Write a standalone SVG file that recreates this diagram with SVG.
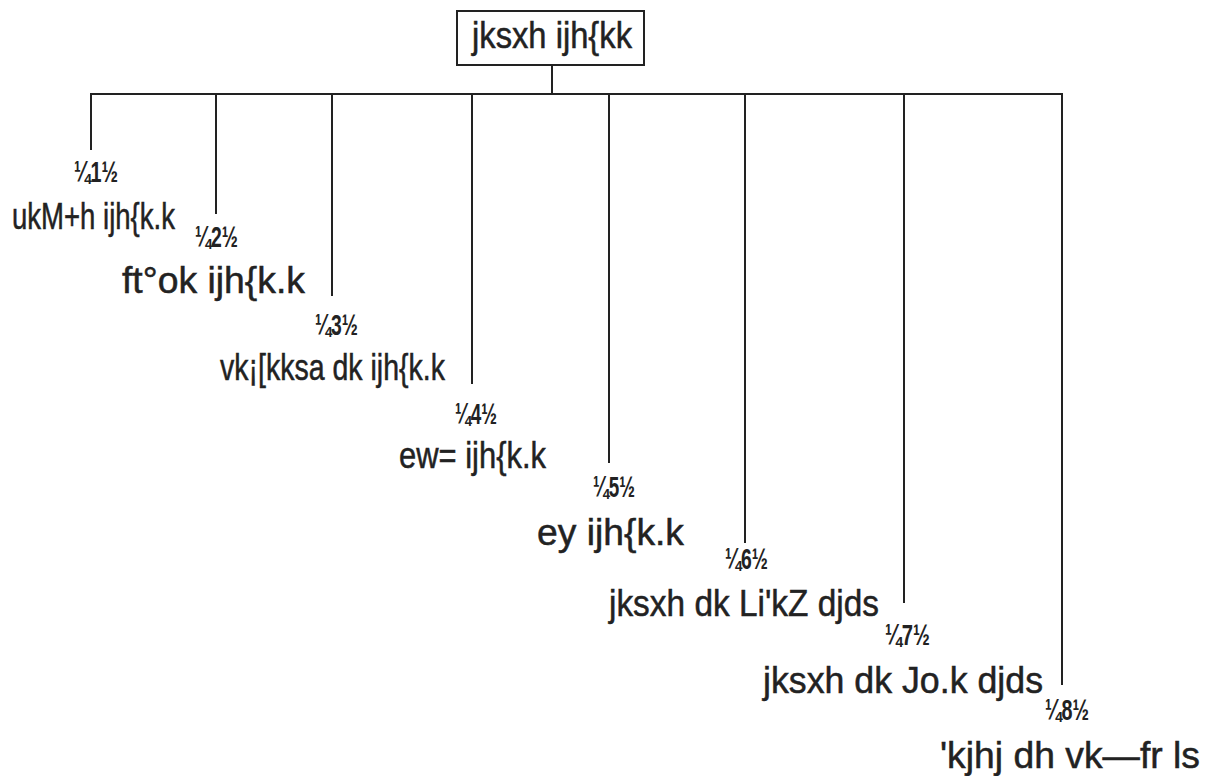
<svg xmlns="http://www.w3.org/2000/svg" width="1210" height="776" viewBox="0 0 1210 776">
  <style>
    .ln { stroke: #222; stroke-width: 2; fill: none; }
    .box { stroke: #222; stroke-width: 2; fill: #fff; }
    .lbl { font-family: "Liberation Sans", Arial, sans-serif; font-size: 37px; fill: #222; stroke: #222; stroke-width: 0.5; }
    .num { font-family: "Liberation Sans", Arial, sans-serif; font-size: 30px; font-weight: bold; fill: #222; }
  </style>
  <rect width="1210" height="776" fill="#fff"/>

  <!-- tree connectors -->
  <g id="connectors">
    <line class="ln" x1="552" y1="65" x2="552" y2="94"/>
    <line class="ln" x1="90" y1="94" x2="1063" y2="94"/>
    <line class="ln" x1="91" y1="94" x2="91" y2="150"/>
    <line class="ln" x1="216" y1="94" x2="216" y2="214"/>
    <line class="ln" x1="332" y1="94" x2="332" y2="296"/>
    <line class="ln" x1="472" y1="94" x2="472" y2="384"/>
    <line class="ln" x1="609" y1="94" x2="609" y2="463"/>
    <line class="ln" x1="745" y1="94" x2="745" y2="543"/>
    <line class="ln" x1="904" y1="94" x2="904" y2="603"/>
    <line class="ln" x1="1062" y1="94" x2="1062" y2="685"/>
  </g>

  <!-- root -->
  <g id="root">
    <rect class="box" x="457" y="11" width="187" height="54"/>
    <text class="lbl" x="472" y="48" textLength="160" lengthAdjust="spacingAndGlyphs">jksxh ijh{kk</text>
  </g>

  <!-- branches -->
  <g id="n1">
    <text class="num" x="74" y="182" textLength="44" lengthAdjust="spacingAndGlyphs">¼1½</text>
    <text class="lbl" x="12" y="229" textLength="163" lengthAdjust="spacingAndGlyphs">ukM+h ijh{k.k</text>
  </g>
  <g id="n2">
    <text class="num" x="195" y="247" textLength="43" lengthAdjust="spacingAndGlyphs">¼2½</text>
    <text class="lbl" x="122" y="293" textLength="183" lengthAdjust="spacingAndGlyphs">ft°ok ijh{k.k</text>
  </g>
  <g id="n3">
    <text class="num" x="315" y="335" textLength="43" lengthAdjust="spacingAndGlyphs">¼3½</text>
    <text class="lbl" x="220" y="380" textLength="225" lengthAdjust="spacingAndGlyphs">vk¡[kksa dk ijh{k.k</text>
  </g>
  <g id="n4">
    <text class="num" x="455" y="424" textLength="42" lengthAdjust="spacingAndGlyphs">¼4½</text>
    <text class="lbl" x="399" y="468" textLength="147" lengthAdjust="spacingAndGlyphs">ew= ijh{k.k</text>
  </g>
  <g id="n5">
    <text class="num" x="593" y="497" textLength="42" lengthAdjust="spacingAndGlyphs">¼5½</text>
    <text class="lbl" x="537" y="545" textLength="147" lengthAdjust="spacingAndGlyphs">ey ijh{k.k</text>
  </g>
  <g id="n6">
    <text class="num" x="725" y="569" textLength="43" lengthAdjust="spacingAndGlyphs">¼6½</text>
    <text class="lbl" x="609" y="616" textLength="270" lengthAdjust="spacingAndGlyphs">jksxh dk Li'kZ djds</text>
  </g>
  <g id="n7">
    <text class="num" x="885" y="645" textLength="45" lengthAdjust="spacingAndGlyphs">¼7½</text>
    <text class="lbl" x="763" y="693" textLength="280" lengthAdjust="spacingAndGlyphs">jksxh dk Jo.k djds</text>
  </g>
  <g id="n8">
    <text class="num" x="1045" y="720" textLength="44" lengthAdjust="spacingAndGlyphs">¼8½</text>
    <text class="lbl" x="940" y="768" textLength="260" lengthAdjust="spacingAndGlyphs">'kjhj dh vk—fr ls</text>
  </g>
</svg>
